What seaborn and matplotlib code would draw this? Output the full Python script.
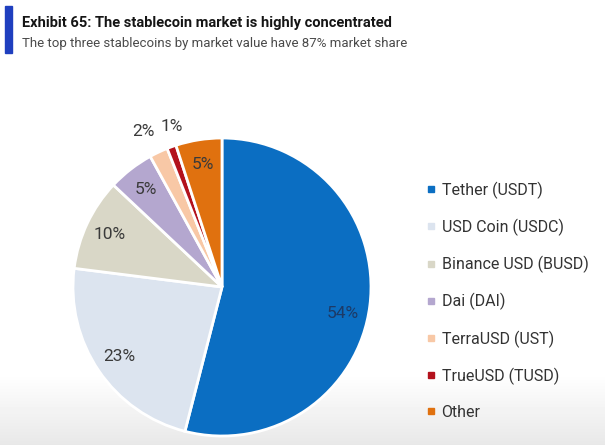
import seaborn as sns
import matplotlib.pyplot as plt
from matplotlib.lines import Line2D
from matplotlib.patches import Rectangle
import numpy as np

# stablecoin market share, %
coins = ["Tether (USDT)", "USD Coin (USDC)", "Binance USD (BUSD)", "Dai (DAI)",
         "TerraUSD (UST)", "TrueUSD (TUSD)", "Other"]
shares = [54, 23, 10, 5, 2, 1, 5]
colors = ["#0b6ec2", "#dce4ef", "#d9d7c7", "#b4a7cf", "#f8c8a6", "#b3121c", "#e0710f"]

sns.set_theme(style="white")
plt.rcParams["font.family"] = ["Roboto", "DejaVu Sans"]

fig = plt.figure(figsize=(6.05, 4.45), dpi=100)
fig.patch.set_facecolor("white")

# faint grey fade at the bottom, like the screenshot
bg = fig.add_axes([0, 0, 1, 1], zorder=-10)
fade = np.clip((np.linspace(0, 1, 445) - 0.84) / 0.16, 0, 1)[:, None]
bg.imshow(1 - 0.09 * fade, cmap="gray", vmin=0, vmax=1, aspect="auto",
          extent=(0, 1, 0, 1), origin="upper")
bg.axis("off")

# pie axes: centre ~(222, 287) px, radius ~149 px
cx, cy, r = 222, 287, 149
ax = fig.add_axes([(cx - r) / 605, (445 - cy - r) / 445, 2 * r / 605, 2 * r / 445])
wedges, texts, autotexts = ax.pie(
    shares, colors=colors, startangle=90, counterclock=False,
    autopct=lambda p: f"{p:.0f}%", pctdistance=0.83,
    wedgeprops=dict(edgecolor="white", linewidth=2),
    textprops=dict(fontsize=12.5, color="#3a3a3a"))
ax.set_xlim(-1, 1)
ax.set_ylim(-1, 1)
ax.set_aspect("auto")
ax.axis("off")
autotexts[0].set_color("#1d3a66")

# label tweaks (distance from centre, angle shift in degrees);
# the small slices get their labels pushed outside the pie
nudge = {0: (0.83, -5.0), 4: (1.17, 1.5), 5: (1.13, -2.5)}
for i, (w, t) in enumerate(zip(wedges, autotexts)):
    if i in nudge:
        dist, dang = nudge[i]
        ang = np.deg2rad((w.theta1 + w.theta2) / 2 + dang)
        t.set_position((dist * np.cos(ang), dist * np.sin(ang)))

# title block
fig.patches.append(Rectangle((5 / 605, 1 - 53 / 445), 7 / 605, 47 / 445,
                             transform=fig.transFigure, color="#1f3fbf"))
fig.text(22 / 605, 1 - 27 / 445, "Exhibit 65: The stablecoin market is highly concentrated",
         fontsize=10.5, fontweight="bold", color="#151515", va="baseline")
fig.text(22 / 605, 1 - 47 / 445, "The top three stablecoins by market value have 87% market share",
         fontsize=9.5, color="#4a4a4a", va="baseline")

handles = [Line2D([], [], marker="s", linestyle="", markersize=5,
                  markerfacecolor=c, markeredgecolor=c) for c in colors]
fig.legend(handles, coins, loc="upper left", bbox_to_anchor=(420 / 605, 1 - 175 / 445),
           frameon=False, fontsize=11.5, labelcolor="#333333", handlelength=0.6,
           handletextpad=0.35, labelspacing=1.25, borderaxespad=0)

fig.savefig("out.png", dpi=100)
